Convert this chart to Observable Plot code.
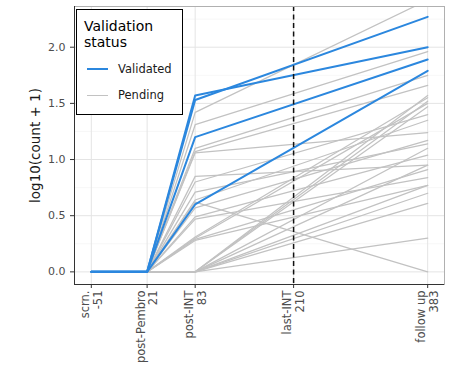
<!DOCTYPE html>
<html><head><meta charset="utf-8">
<script src="https://cdn.jsdelivr.net/npm/d3@7"></script>
<script src="https://cdn.jsdelivr.net/npm/@observablehq/plot@0.6"></script>
<style>
body{margin:0;background:#fff;font-family:"DejaVu Sans",sans-serif;}
#wrap{position:relative;width:455px;height:368px;}
#wrap svg{position:absolute;left:0;top:0;}
.lg{position:absolute;}
#lgbox{left:76px;top:9px;width:107px;height:106px;box-sizing:border-box;border:1.5px solid #000;background:#fff;}
.lgtitle{left:84px;font-size:14px;line-height:16.5px;color:#000;}
.lgtext{font-size:11.5px;line-height:14px;color:#1a1a1a;left:118px;}
</style></head><body>
<div id="wrap"></div>
<script>
// Time points (days) and tick labels
const tickDays = [-51, 21, 83, 210, 383];
const tickLabels = ["scrn.\n-51", "post-Pembro\n21", "post-INT\n83", "last-INT\n210", "follow up\n383"];
const sampleDays = [-51, 21, 83, 383];
const lastINTDay = 210;
const yTicks = [0, 0.5, 1, 1.5, 2];
const yMinorTicks = [0.25, 0.75, 1.25, 1.75, 2.25];

// Validated series: log10(count+1) at post-INT and follow up (scrn and post-Pembro are 0)
const validatedPostINT = [1.57, 1.53, 1.20, 0.60];
const validatedFollowUp = [2.00, 2.27, 1.89, 1.79];

// Pending series
const pendingPostINT = [1.42, 1.31, 1.10, 1.07, 1.06, 0.85, 0.80, 0.71, 0.64, 0.62, 0.57, 0.49, 0.47,
  0.31, 0.30, 0.29, 0.28, 0, 0, 0, 0, 0, 0, 0, 0, 0];
const pendingFollowUp = [2.42, 1.96, 1.75, 1.66, 1.24, 0.95, 1.40, 1.14, 1.35, 0.00, 1.17, 1.04, 0.84,
  1.55, 1.50, 0.91, 0.77, 1.57, 1.52, 1.47, 1.10, 0.70, 0.61, 0.30, 0.95, 0.77];

const xDomain = [-72.7, 404.7];
const yDomain = [-0.1125, 2.3625];

function buildRows(postINT, followUp, status) {
  const rows = [];
  postINT.forEach((v, i) => {
    const vals = [0, 0, v, followUp[i]];
    sampleDays.forEach((d, j) => rows.push({id: status + i, status, day: d, value: vals[j]}));
  });
  return rows;
}
const pendingRows = buildRows(pendingPostINT, pendingFollowUp, "Pending");
const validatedRows = buildRows(validatedPostINT, validatedFollowUp, "Validated");

const blue = "#2b87de";
const gray = "#c2c2c2";

const chart = Plot.plot({
  width: 455, height: 368,
  marginLeft: 74, marginRight: 11, marginTop: 6, marginBottom: 84,
  style: {fontFamily: "DejaVu Sans", background: "transparent", overflow: "visible"},
  x: {domain: xDomain, axis: null},
  y: {domain: yDomain, axis: null},
  marks: [
    Plot.gridY(yMinorTicks, {stroke: "#f1f1f1", strokeOpacity: 1, strokeWidth: 0.6}),
    Plot.gridY(yTicks, {stroke: "#e4e4e4", strokeOpacity: 1, strokeWidth: 1}),
    Plot.gridX(tickDays, {stroke: "#e4e4e4", strokeOpacity: 1, strokeWidth: 1}),
    Plot.line(pendingRows, {x: "day", y: "value", z: "id", stroke: gray, strokeWidth: 1.25, clip: true}),
    Plot.line(validatedRows, {x: "day", y: "value", z: "id", stroke: blue, strokeWidth: 2, clip: true}),
    Plot.ruleX([lastINTDay], {stroke: "#111", strokeWidth: 1.5, strokeDasharray: "5,3.5"}),
    Plot.frame({stroke: "#b0b0b0", strokeWidth: 1}),
    Plot.ruleX([xDomain[0]], {stroke: "#333", strokeWidth: 1}),
    Plot.ruleY([yDomain[0]], {stroke: "#333", strokeWidth: 1}),
    Plot.axisY(yTicks, {tickFormat: d => d.toFixed(1), tickSize: 4, tickPadding: 5, fontSize: 11,
      color: "#4d4d4d", stroke: "#333", label: null}),
    Plot.axisX(tickDays, {tickFormat: () => "", tickSize: 4, stroke: "#333", label: null}),
    Plot.text(tickDays, {x: d => d, text: (d, i) => tickLabels[i], frameAnchor: "bottom", rotate: -90,
      textAnchor: "end", lineAnchor: "middle", lineHeight: 1.1, dy: 6, fontSize: 11.5, fill: "#4d4d4d"}),
    Plot.text(["log10(count + 1)"], {text: d => d, frameAnchor: "left", rotate: -90, textAnchor: "middle",
      lineAnchor: "middle", dx: -39, fontSize: 13.5, fill: "#1a1a1a"})
  ]
});

const wrap = document.getElementById("wrap");
wrap.appendChild(chart);
wrap.insertAdjacentHTML("beforeend", `
  <div class="lg" id="lgbox"></div>
  <div class="lg lgtitle" style="top:17.5px">Validation</div>
  <div class="lg lgtitle" style="top:34px">status</div>
  <div class="lg" style="left:87px;top:68px;width:21px;height:2px;background:${blue}"></div>
  <div class="lg lgtext" style="top:62px">Validated</div>
  <div class="lg" style="left:87px;top:94.5px;width:21px;height:1.3px;background:${gray}"></div>
  <div class="lg lgtext" style="top:88px">Pending</div>
`);
</script>
</body></html>
